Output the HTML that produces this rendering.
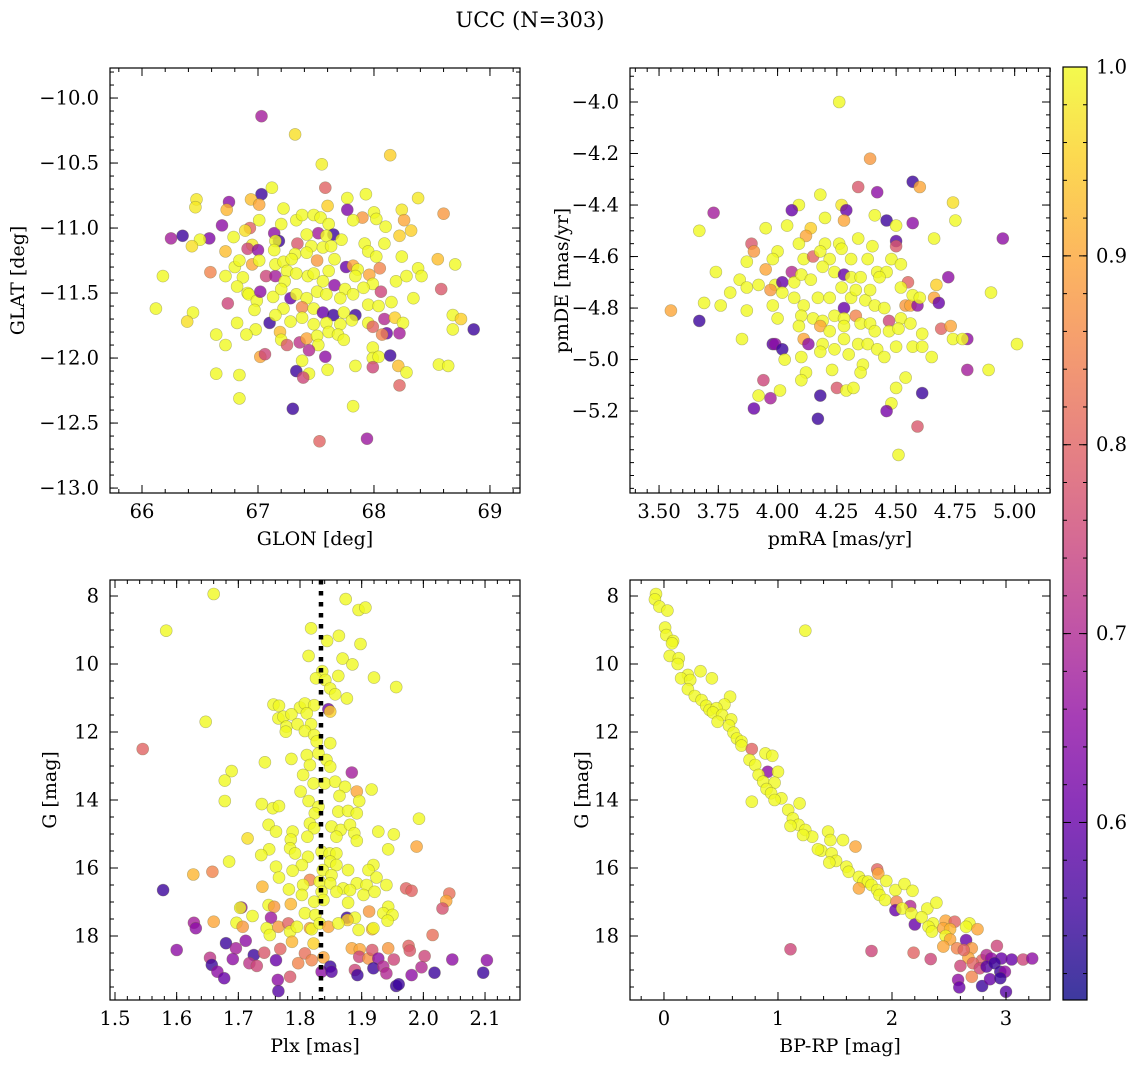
<!DOCTYPE html>
<html><head><meta charset="utf-8">
<style>
html,body{margin:0;padding:0;background:#fff;}
svg{display:block;}
text{font-family:"DejaVu Serif","Liberation Serif",serif;fill:#000;}
</style></head>
<body>
<svg id="fig" width="1136" height="1067" viewBox="0 0 1136 1067" xmlns="http://www.w3.org/2000/svg">
<text x="530" y="27" font-size="21" text-anchor="middle">UCC (N=303)</text>
</svg>
<script>
// ---------- Panel 1: GLON / GLAT ----------
const p1Glon=[67.03,67.32,68.14,67.55,67.58,67.12,67.03,66.94,66.47,66.46,66.75,66.73,67.01,67.22,67.6,67.77,67.93,67.77,68.38,68.6,68.24,68.26,67.9,67.82,68.0,68.02,68.1,68.22,68.32,66.25,66.35,66.69,66.58,66.5,66.43,67.01,66.93,66.89,66.79,66.72,66.95,66.91,67.0,67.14,67.18,67.15,67.14,67.2,67.33,67.38,67.48,67.54,67.61,67.52,67.65,67.59,67.72,67.92,68.09,67.34,67.42,67.46,67.56,67.63,67.32,67.42,67.51,67.66,67.95,68.02,68.24,68.55,68.7,66.18,66.59,66.72,66.8,66.84,66.95,67.01,66.87,66.82,66.91,67.07,67.15,67.15,67.22,67.29,67.25,67.23,67.33,67.43,67.48,67.61,67.56,67.76,67.82,67.86,67.84,67.96,68.05,67.99,68.19,68.28,68.38,68.41,68.58,67.66,67.75,67.91,68.06,68.34,68.15,66.12,66.44,66.39,66.74,66.92,66.99,66.97,67.02,67.13,67.2,67.28,67.33,67.42,67.51,67.59,67.71,67.82,67.22,67.38,67.48,67.56,67.65,67.74,67.84,67.95,68.04,68.09,68.18,68.25,68.68,68.75,68.86,68.68,67.1,67.15,67.28,67.38,67.48,67.59,67.71,67.81,67.95,67.99,68.11,68.22,68.07,66.82,66.98,66.9,66.64,66.72,67.19,67.2,67.25,67.36,67.42,67.51,67.52,67.44,67.61,67.69,67.74,67.99,67.99,68.04,68.14,67.99,68.21,68.28,68.22,68.56,68.64,67.58,67.6,67.84,67.38,67.33,67.44,67.39,67.02,67.06,66.64,66.84,66.84,67.30,67.82,67.53,67.94];
const p1Glat=[-10.14,-10.28,-10.44,-10.51,-10.69,-10.69,-10.74,-10.78,-10.78,-10.84,-10.80,-10.86,-10.82,-10.85,-10.83,-10.77,-10.74,-10.86,-10.77,-10.89,-10.86,-10.94,-10.92,-10.94,-10.88,-10.93,-10.99,-11.06,-11.02,-11.08,-11.06,-10.98,-11.08,-11.09,-11.14,-10.94,-11.0,-11.02,-11.07,-11.18,-11.13,-11.16,-11.17,-11.04,-11.1,-11.1,-11.17,-10.97,-10.94,-10.9,-10.9,-10.92,-10.97,-11.04,-11.05,-11.06,-11.09,-11.12,-11.12,-11.12,-11.05,-11.14,-11.15,-11.14,-11.2,-11.19,-11.25,-11.24,-11.18,-11.22,-11.22,-11.24,-11.28,-11.37,-11.34,-11.37,-11.3,-11.25,-11.28,-11.25,-11.38,-11.45,-11.5,-11.37,-11.37,-11.28,-11.26,-11.24,-11.33,-11.41,-11.35,-11.37,-11.35,-11.33,-11.41,-11.30,-11.29,-11.32,-11.37,-11.36,-11.31,-11.43,-11.41,-11.37,-11.31,-11.37,-11.47,-11.44,-11.47,-11.46,-11.49,-11.54,-11.57,-11.62,-11.65,-11.72,-11.58,-11.51,-11.56,-11.63,-11.49,-11.53,-11.47,-11.54,-11.51,-11.54,-11.49,-11.51,-11.54,-11.51,-11.62,-11.61,-11.62,-11.65,-11.67,-11.65,-11.67,-11.59,-11.6,-11.7,-11.69,-11.73,-11.67,-11.7,-11.78,-11.78,-11.73,-11.67,-11.72,-11.69,-11.74,-11.73,-11.74,-11.71,-11.73,-11.76,-11.81,-11.81,-11.82,-11.73,-11.78,-11.82,-11.82,-11.9,-11.8,-11.86,-11.9,-11.88,-11.85,-11.83,-11.9,-11.94,-11.8,-11.82,-11.86,-11.92,-12.0,-11.99,-11.98,-12.07,-12.06,-12.11,-12.21,-12.05,-12.06,-11.99,-12.09,-12.06,-12.02,-12.1,-12.12,-12.15,-11.99,-11.97,-12.12,-12.13,-12.31,-12.39,-12.37,-12.64,-12.62];
const p1Prob=[.68,.97,.95,.99,.8,1,.55,.93,.98,.98,.65,.92,.9,1,.95,1,1,.63,.98,.88,.98,.9,.88,1,1,1,1,.95,.95,.68,.55,.65,.63,1,.97,1,.8,.97,1,.93,.98,.75,.65,.65,.55,1,1,1,1,1,1,1,1,.68,.55,1,1,1,1,.78,1,1,1,1,1,1,.88,1,1,1,1,.93,1,1,.85,1,1,1,.9,1,1,1,1,.75,.68,1,1,1,1,1,1,1,1,1,1,.6,.9,1,1,.9,.85,1,1,1,1,1,.78,.65,1,1,.75,1,1,1,1,.97,.75,1,1,1,.65,1,1,.6,1,1,1,1,1,1,1,.85,1,.6,.55,1,.55,1,1,.7,.95,1,1,.95,.55,1,.55,1,1,1,1,1,1,1,1,.8,.6,.68,.85,1,1,1,1,1,.93,1,.78,.72,.9,1,1,.7,1,1,1,1,1,1,.55,.75,.93,1,.8,1,1,.65,1,1,1,.55,1,.75,.9,.75,1,1,1,.55,1,.8,.67,.88];

// ---------- Panel 2: pmRA / pmDE ----------
const p2PmRA=[4.26,4.39,4.34,4.42,4.57,4.6,4.18,4.09,4.06,4.27,4.29,4.28,4.2,4.41,4.46,4.5,4.57,4.74,4.75,3.73,3.67,3.95,4.04,4.14,4.12,4.34,4.4,4.5,4.5,4.66,4.95,3.89,3.9,4.0,3.98,3.87,4.09,4.11,4.15,4.2,4.26,4.27,4.18,4.22,4.31,4.38,4.48,4.52,3.95,3.74,3.84,3.87,3.92,3.99,4.02,4.06,4.07,4.1,4.14,4.19,4.24,4.28,4.31,4.35,4.42,4.46,4.43,4.55,4.52,4.67,4.72,4.9,3.55,3.67,3.69,3.8,3.76,3.87,3.97,4.02,3.98,4.07,4.11,4.17,4.22,4.27,4.31,4.33,4.37,4.39,4.41,4.45,4.28,4.54,4.56,4.59,4.57,4.6,4.66,4.68,4.0,4.1,4.15,4.19,4.24,4.28,4.33,4.35,4.39,4.47,4.52,4.56,4.09,4.18,4.22,4.28,4.41,4.47,4.51,4.69,4.73,4.8,4.74,4.78,5.01,3.85,3.98,3.99,4.02,4.11,4.13,4.19,4.18,4.24,4.28,4.34,4.38,4.42,4.45,4.5,4.57,4.61,4.61,4.65,4.03,4.1,4.3,4.36,4.35,4.23,4.12,4.1,3.94,4.01,3.97,3.92,3.9,4.18,4.25,4.29,4.32,4.17,4.54,4.5,4.48,4.46,4.61,4.8,4.89,4.59,4.51];
const p2PmDE=[-4.0,-4.22,-4.33,-4.35,-4.31,-4.33,-4.36,-4.4,-4.42,-4.4,-4.42,-4.46,-4.45,-4.44,-4.46,-4.48,-4.47,-4.39,-4.46,-4.43,-4.5,-4.49,-4.48,-4.49,-4.52,-4.53,-4.56,-4.54,-4.56,-4.53,-4.53,-4.55,-4.58,-4.58,-4.61,-4.62,-4.55,-4.61,-4.6,-4.55,-4.55,-4.57,-4.58,-4.61,-4.61,-4.61,-4.61,-4.63,-4.65,-4.66,-4.69,-4.72,-4.71,-4.71,-4.7,-4.66,-4.7,-4.67,-4.69,-4.64,-4.66,-4.67,-4.68,-4.68,-4.66,-4.66,-4.68,-4.7,-4.72,-4.71,-4.68,-4.74,-4.81,-4.85,-4.78,-4.74,-4.79,-4.81,-4.73,-4.74,-4.79,-4.76,-4.79,-4.76,-4.76,-4.72,-4.76,-4.73,-4.77,-4.73,-4.79,-4.8,-4.8,-4.79,-4.79,-4.79,-4.75,-4.76,-4.76,-4.78,-4.84,-4.83,-4.84,-4.85,-4.83,-4.84,-4.83,-4.86,-4.86,-4.85,-4.84,-4.86,-4.87,-4.87,-4.89,-4.87,-4.89,-4.89,-4.88,-4.88,-4.87,-4.92,-4.92,-4.92,-4.94,-4.92,-4.94,-4.94,-4.96,-4.92,-4.94,-4.94,-4.97,-4.96,-4.92,-4.94,-4.94,-4.96,-4.99,-4.95,-4.95,-4.9,-4.95,-4.99,-5.0,-4.99,-4.98,-5.02,-5.05,-5.04,-5.05,-5.08,-5.08,-5.12,-5.15,-5.14,-5.19,-5.14,-5.11,-5.12,-5.11,-5.23,-5.07,-5.11,-5.17,-5.2,-5.13,-5.04,-5.04,-5.26,-5.37];
const p2Prob=[1,.88,.78,.65,.55,.9,1,1,.6,.98,.6,.9,1,1,.55,1,.65,.97,1,.68,1,1,1,.95,.9,1,1,.58,.78,1,.65,.78,.88,1,1,1,1,1,.8,1,1,1,1,1,1,1,1,1,.9,1,1,1,1,1,.6,.7,1,1,1,1,1,.6,1,1,1,1,1,.8,1,.95,.65,1,.9,.55,1,1,1,1,.88,1,1,1,1,1,1,1,1,1,1,1,1,1,.6,.88,.9,.65,1,1,.9,.6,1,1,1,1,1,1,.85,1,1,.75,1,1,1,.9,1,1,1,1,1,.8,.9,.65,1,1,1,1,.58,.65,.55,.9,.65,1,1,1,1,1,1,1,1,1,1,1,1,1,1,1,1,1,1,1,1,1,.75,1,.68,1,.6,.55,.78,1,1,.55,1,1,1,.62,.55,.68,1,.78,1];

// ---------- Panel 3: Plx / G ----------
const p3Plx=[1.66,1.874,1.895,1.906,1.583,1.818,1.844,1.863,1.898,1.814,1.869,1.885,1.836,1.862,1.826,1.841,1.92,1.956,1.849,1.857,1.876,1.757,1.766,1.8,1.808,1.823,1.846,1.849,1.647,1.765,1.773,1.786,1.778,1.796,1.811,1.818,1.777,1.808,1.823,1.827,1.849,1.545,1.743,1.786,1.811,1.83,1.843,1.816,1.849,1.884,1.689,1.678,1.805,1.822,1.84,1.857,1.873,1.801,1.892,1.916,1.864,1.896,1.678,1.738,1.756,1.766,1.814,1.83,1.824,1.862,1.878,1.892,1.993,1.749,1.761,1.788,1.816,1.823,1.851,1.866,1.881,1.888,1.812,1.859,1.892,1.927,1.952,1.715,1.785,1.75,1.737,1.784,1.792,1.813,1.835,1.848,1.859,1.943,1.989,1.685,1.761,1.803,1.849,1.859,1.878,1.919,1.788,1.837,1.851,1.911,1.924,1.627,1.658,1.766,1.816,1.805,1.832,1.849,1.87,1.892,1.908,1.94,1.739,1.782,1.803,1.835,1.859,1.881,1.903,1.921,1.578,1.972,1.981,2.042,2.037,2.031,1.878,1.838,1.823,1.749,1.758,1.785,1.705,1.703,1.943,1.912,1.935,1.95,1.808,1.825,1.876,1.889,1.877,1.942,1.723,1.697,1.66,1.628,1.631,1.707,1.753,1.746,1.751,1.765,1.781,1.784,1.795,1.787,1.816,1.819,1.832,1.846,1.862,1.895,1.917,1.919,2.015,1.822,1.6,1.68,1.712,1.696,1.725,1.742,1.768,1.654,1.657,1.666,1.677,1.691,1.718,1.73,1.761,1.784,1.764,1.765,1.797,1.808,1.819,1.838,1.835,1.849,1.851,1.884,1.897,1.896,1.911,1.917,1.927,1.943,1.952,1.976,1.978,2.002,2.047,2.103,1.889,1.893,1.919,1.935,1.94,1.981,1.997,2.018,2.097,1.956,1.96];
const p3G=[7.94,8.09,8.41,8.34,9.02,8.95,9.32,9.17,9.41,9.76,9.84,10.01,10.21,10.35,10.42,10.47,10.4,10.68,10.72,10.89,11.01,11.19,11.23,11.28,11.16,11.21,11.33,11.4,11.7,11.6,11.55,11.48,11.84,11.77,11.45,11.77,11.99,11.97,12.09,12.28,12.33,12.5,12.89,12.79,12.68,12.63,12.82,12.97,13.02,13.19,13.15,13.43,13.26,13.51,13.51,13.46,13.61,13.75,13.75,13.69,13.88,14.03,14.03,14.12,14.24,14.18,14.03,14.2,14.39,14.34,14.32,14.39,14.55,14.73,14.93,14.93,14.69,14.83,14.78,14.88,14.73,14.98,15.08,15.08,15.2,14.93,15.01,15.13,15.16,15.45,15.62,15.42,15.57,15.67,15.52,15.57,15.57,15.45,15.37,15.81,15.96,15.91,15.81,15.91,16.06,15.91,16.08,16.06,16.21,16.06,16.28,16.19,16.11,16.28,16.35,16.5,16.4,16.45,16.6,16.45,16.5,16.5,16.55,16.63,16.79,16.7,16.7,16.65,16.79,16.7,16.65,16.6,16.67,16.75,16.97,17.19,17.02,16.94,16.99,17.09,17.14,17.06,17.16,17.17,17.14,17.28,17.33,17.38,17.33,17.38,17.46,17.46,17.53,17.55,17.41,17.61,17.58,17.61,17.77,17.73,17.46,17.77,17.97,17.73,17.63,17.87,17.73,18.17,17.77,17.8,17.63,17.73,17.63,17.82,17.8,17.77,17.97,18.22,18.41,18.21,18.14,18.36,18.56,18.49,18.38,18.64,18.85,19.05,19.24,18.68,18.8,18.88,18.71,19.2,19.29,19.62,18.8,18.51,18.71,18.63,19.05,18.9,19.05,18.36,18.39,18.61,18.66,18.41,18.66,18.36,18.69,18.29,18.43,18.59,18.69,18.71,19.0,19.15,18.95,18.9,19.1,19.15,18.92,19.08,19.08,19.47,19.42];
const p3Prob=[1,1,1,1,1,1,1,1,1,1,1,1,1,1,1,1,1,1,1,1,1,1,1,1,1,1,.6,.95,1,1,1,1,1,1,1,1,1,1,1,1,1,.8,1,1,1,1,1,1,1,.68,1,1,1,1,1,1,1,1,.9,1,1,1,1,1,1,1,1,1,1,1,1,1,1,1,1,1,1,1,1,1,1,1,1,1,1,1,1,.97,1,1,1,1,1,1,1,1,1,1,.9,1,1,1,1,1,1,1,1,1,1,1,1,.92,.85,1,.85,1,1,1,1,1,1,1,.92,1,1,1,1,1,1,1,.55,.8,.8,.82,.9,.77,1,1,1,1,.88,.92,.65,1,1,.88,1,1,1,1,.55,1,.95,1,1,1,.9,.68,.65,.88,.67,1,1,.88,.8,1,1,.92,.9,1,1,.9,1,1,.92,1,.82,.95,.65,.55,.65,.68,.55,.78,.8,.72,.55,.65,.6,.65,.72,.75,.6,.78,.65,.58,.85,.82,.85,.9,.65,.55,.58,.9,.9,.75,.87,.78,.65,.88,.75,.8,.78,.75,.65,.65,.75,.55,.55,.7,.7,.65,.7,.55,.55,.55,.55];

// ---------- Panel 4: BP-RP / G ----------
const p4BpRp=[-0.07,-0.08,-0.04,0.03,1.24,0.01,0.02,0.08,0.07,0.05,0.13,0.12,0.32,0.42,0.21,0.15,0.23,0.21,0.27,0.33,0.37,0.4,0.58,0.53,0.46,0.43,0.51,0.59,0.47,0.57,0.61,0.64,0.68,0.68,0.77,0.89,0.95,0.75,0.8,0.91,1.0,0.83,0.87,0.97,0.9,0.94,1.03,0.77,0.97,1.09,1.19,1.13,1.18,1.11,1.24,1.3,1.22,1.44,1.46,1.57,1.68,1.38,1.35,1.47,1.51,1.45,1.6,1.62,1.87,1.88,1.71,1.75,1.79,1.71,1.82,1.95,1.87,1.89,1.94,2.03,2.11,2.18,2.04,2.03,2.16,2.09,2.17,2.2,2.31,2.39,2.26,2.36,2.32,2.35,2.47,2.55,2.68,2.65,2.75,2.45,2.51,2.47,2.51,2.45,2.57,2.65,2.7,2.67,2.63,2.79,2.92,2.83,2.87,2.96,3.05,3.15,3.23,2.6,2.71,2.77,2.83,2.9,2.95,2.99,2.7,2.58,2.59,2.79,2.86,2.95,3.0,1.11,1.82,2.19,2.34];
const p4G=[7.94,8.1,8.31,8.43,9.02,8.93,9.15,9.32,9.39,9.76,9.83,10.0,10.21,10.42,10.32,10.42,10.47,10.74,10.94,11.06,11.23,11.35,10.96,11.19,11.3,11.43,11.5,11.63,11.7,11.81,12.02,12.19,12.28,12.4,12.5,12.63,12.7,12.82,12.97,13.17,13.17,13.26,13.46,13.49,13.68,13.8,13.95,14.05,14.0,14.29,14.1,14.54,14.73,14.76,14.88,15.08,15.03,14.93,15.18,15.18,15.37,15.49,15.45,15.57,15.79,15.84,15.96,16.11,16.04,16.16,16.26,16.4,16.4,16.6,16.5,16.38,16.65,16.79,16.94,16.65,16.47,16.67,16.99,17.24,17.12,17.19,17.33,17.66,17.19,17.02,17.45,17.63,17.73,17.87,17.55,17.58,17.63,17.73,17.8,17.77,17.8,18.0,18.1,18.31,18.36,18.12,18.36,18.64,18.41,18.71,18.29,18.56,18.66,18.66,18.69,18.69,18.66,18.88,18.8,18.95,18.9,18.8,19.05,19.05,19.2,19.29,19.51,19.47,19.27,19.24,19.64,18.39,18.44,18.49,18.68];
const p4Prob=[1,1,1,1,1,1,1,1,1,1,1,1,1,1,1,1,1,1,1,1,1,1,1,1,1,1,1,1,1,1,1,1,1,1,.8,1,1,1,1,.65,1,1,1,1,1,1,1,1,1,1,1,1,1,1,1,1,1,1,1,1,.9,1,1,1,1,1,1,1,.8,.9,1,1,1,.9,1,1,1,1,1,1,1,1,.85,.6,.7,1,1,.6,1,1,1,1,1,1,.9,.8,1,1,.9,.9,.92,1,.9,.9,.85,.6,.88,.9,.8,.8,.75,.7,.65,.6,.6,.75,.65,.75,.8,.75,.58,.55,.55,.65,.85,.65,.6,.55,.6,.55,.58,.75,.75,.8,.75];

// ---------- Colorbar ----------
const cbMin=0.506, cbMax=1.0;
const cbTicks=[0.6,0.7,0.8,0.9,1.0];
const cbTickLabels=["0.6","0.7","0.8","0.9","1.0"];
const plasma=["#0d0887","#41049d","#6a00a8","#8f0da4","#b12a90","#cc4778","#e16462","#f2844b","#fca636","#fcce25","#f0f921"];

const NS="http://www.w3.org/2000/svg";
const svg=document.getElementById('fig');
const TICKFS=19.5, TITLEFS=19;
function mk(tag,attrs,parent){const e=document.createElementNS(NS,tag);for(const k in attrs)e.setAttribute(k,attrs[k]);(parent||svg).appendChild(e);return e;}
function hex2rgb(h){return [parseInt(h.substr(1,2),16),parseInt(h.substr(3,2),16),parseInt(h.substr(5,2),16)];}
function cmap(v){let t=(v-cbMin)/(cbMax-cbMin);t=Math.max(0,Math.min(1,t));const f=t*10;const i=Math.min(9,Math.floor(f));const r=f-i;const a=hex2rgb(plasma[i]),b=hex2rgb(plasma[i+1]);return 'rgb('+a.map((x,k)=>Math.round(x+(b[k]-x)*r)).join(',')+')';}
function range(a,b,s){const out=[];for(let v=a;v<=b+s*1e-6;v+=s)out.push(+v.toFixed(6));return out;}

function panel(o){
  const g=mk('g',{});
  
  
  const sx=v=>o.x0+(v-o.xd[0])/(o.xd[1]-o.xd[0])*(o.x1-o.x0);
  const sy=v=>o.y1-(v-o.yd[0])/(o.yd[1]-o.yd[0])*(o.y1-o.y0);
  const clipId=o.name+'-clip';
  const cp=mk('clipPath',{id:clipId},g);
  mk('rect',{x:o.x0,y:o.y0,width:o.x1-o.x0,height:o.y1-o.y0},cp);
  const pts=mk('g',{'clip-path':'url(#'+clipId+')'},g);
  
  
  for(let i=0;i<o.xs.length;i++){
    const c=mk('circle',{cx:sx(o.xs[i]).toFixed(1),cy:sy(o.ys[i]).toFixed(1),r:6,fill:cmap(o.cs[i]),'fill-opacity':0.8,stroke:'#6b6b3a','stroke-opacity':0.45,'stroke-width':0.6},pts);
    
    
  }
  if(o.vline!==undefined){
    const l=mk('line',{x1:sx(o.vline),x2:sx(o.vline),y1:o.y0,y2:o.y1,stroke:'#000','stroke-width':4.5,'stroke-dasharray':'4.5 6.5'},g);
    
    
  }
  const fr=mk('rect',{x:o.x0,y:o.y0,width:o.x1-o.x0,height:o.y1-o.y0,fill:'none',stroke:'#000','stroke-width':1.2},g);
  
  
  const tk=mk('g',{stroke:'#000','stroke-width':1},g);
  
  
  function xt(v,len){const X=sx(v);if(X<o.x0-0.5||X>o.x1+0.5)return;mk('line',{x1:X,x2:X,y1:o.y1,y2:o.y1-len},tk);mk('line',{x1:X,x2:X,y1:o.y0,y2:o.y0+len},tk);}
  function yt(v,len){const Y=sy(v);if(Y<o.y0-0.5||Y>o.y1+0.5)return;mk('line',{x1:o.x0,x2:o.x0+len,y1:Y,y2:Y},tk);mk('line',{x1:o.x1,x2:o.x1-len,y1:Y,y2:Y},tk);}
  o.xMinor.forEach(v=>xt(v,4));o.xMajor.forEach(v=>xt(v,8));
  o.yMinor.forEach(v=>yt(v,4));o.yMajor.forEach(v=>yt(v,8));
  o.xMajor.forEach((v,i)=>{const t=mk('text',{x:sx(v),y:o.y1+25,'font-size':TICKFS,'text-anchor':'middle'},g);t.textContent=o.xLabels[i];});
  o.yMajor.forEach((v,i)=>{const t=mk('text',{x:o.x0-11,y:sy(v)+6.5,'font-size':TICKFS,'text-anchor':'end'},g);t.textContent=o.yLabels[i];});
  const xl=mk('text',{x:(o.x0+o.x1)/2,y:o.y1+52,'font-size':TITLEFS,'text-anchor':'middle'},g);xl.textContent=o.xTitle;
  
  
  const yc=(o.y0+o.y1)/2;
  const yl=mk('text',{x:o.yTitleX,y:yc,'font-size':TITLEFS,'text-anchor':'middle',transform:'rotate(-90 '+o.yTitleX+' '+yc+')'},g);yl.textContent=o.yTitle;
  
  
}

panel({name:'glon-glat-panel',x0:110,x1:520,y0:68,y1:493,xd:[65.724,69.259],yd:[-13.038,-9.769],xs:p1Glon,ys:p1Glat,cs:p1Prob,
  xMajor:[66,67,68,69],xLabels:["66","67","68","69"],xMinor:range(65.8,69.2,0.2),
  yMajor:[-13,-12.5,-12,-11.5,-11,-10.5,-10],yLabels:["\u221213.0","\u221212.5","\u221212.0","\u221211.5","\u221211.0","\u221210.5","\u221210.0"],yMinor:range(-13.0,-9.8,0.1),
  xTitle:"GLON [deg]",yTitle:"GLAT [deg]",yTitleX:24});
panel({name:'pm-panel',x0:630,x1:1050,y0:68,y1:493,xd:[3.3775,5.149],yd:[-5.518,-3.868],xs:p2PmRA,ys:p2PmDE,cs:p2Prob,
  xMajor:[3.5,3.75,4.0,4.25,4.5,4.75,5.0],xLabels:["3.50","3.75","4.00","4.25","4.50","4.75","5.00"],xMinor:range(3.4,5.15,0.05),
  yMajor:[-5.2,-5.0,-4.8,-4.6,-4.4,-4.2,-4.0],yLabels:["\u22125.2","\u22125.0","\u22124.8","\u22124.6","\u22124.4","\u22124.2","\u22124.0"],yMinor:range(-5.5,-3.9,0.05),
  xTitle:"pmRA [mas/yr]",yTitle:"pmDE [mas/yr]",yTitleX:568});
panel({name:'plx-g-panel',x0:110,x1:520,y0:580,y1:1000,xd:[1.4919,2.1567],yd:[19.882,7.529],xs:p3Plx,ys:p3G,cs:p3Prob,vline:1.834,
  xMajor:[1.5,1.6,1.7,1.8,1.9,2.0,2.1],xLabels:["1.5","1.6","1.7","1.8","1.9","2.0","2.1"],xMinor:range(1.5,2.16,0.02),
  yMajor:[8,10,12,14,16,18],yLabels:["8","10","12","14","16","18"],yMinor:range(7.5,19.5,0.5),
  xTitle:"Plx [mas]",yTitle:"G [mag]",yTitleX:56});
panel({name:'cmd-panel',x0:630,x1:1050,y0:580,y1:1000,xd:[-0.298,3.386],yd:[19.882,7.529],xs:p4BpRp,ys:p4G,cs:p4Prob,
  xMajor:[0,1,2,3],xLabels:["0","1","2","3"],xMinor:range(-0.2,3.4,0.2),
  yMajor:[8,10,12,14,16,18],yLabels:["8","10","12","14","16","18"],yMinor:range(7.5,19.5,0.5),
  xTitle:"BP-RP [mag]",yTitle:"G [mag]",yTitleX:588});

// colorbar
(function(){
  const x0=1063,x1=1087,y0=67,y1=1000;
  const cg=mk('g',{});
  
  
  const defs=mk('defs',{},cg);
  const lg=mk('linearGradient',{id:'cbgrad',x1:0,y1:1,x2:0,y2:0},defs);
  plasma.forEach((c,i)=>mk('stop',{offset:(i/10),'stop-color':c},lg));
  mk('rect',{x:x0,y:y0,width:x1-x0,height:y1-y0,fill:'url(#cbgrad)','fill-opacity':0.8},cg);
  mk('rect',{x:x0,y:y0,width:x1-x0,height:y1-y0,fill:'none',stroke:'#000','stroke-width':1.2},cg);
  const sy=v=>y1-(v-cbMin)/(cbMax-cbMin)*(y1-y0);
  range(0.52,1.0,0.02).forEach(v=>{const Y=sy(v);mk('line',{x1:x1,x2:x1-4,y1:Y,y2:Y,stroke:'#000'},cg);mk('line',{x1:x0,x2:x0+4,y1:Y,y2:Y,stroke:'#000'},cg);});
  cbTicks.forEach((v,i)=>{const Y=sy(v);mk('line',{x1:x1,x2:x1-8,y1:Y,y2:Y,stroke:'#000'},cg);mk('line',{x1:x0,x2:x0+8,y1:Y,y2:Y,stroke:'#000'},cg);
    const t=mk('text',{x:x1+9,y:Y+6.5,'font-size':TICKFS},cg);t.textContent=cbTickLabels[i];
    
    });
})();
</script>
</body></html>
